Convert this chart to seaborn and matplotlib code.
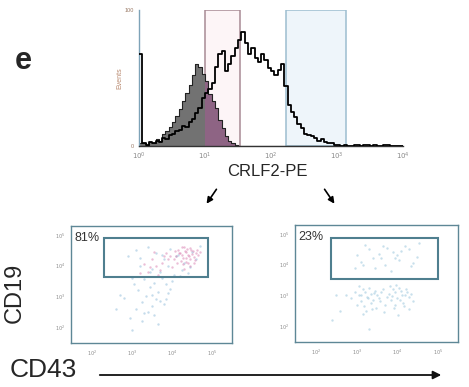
import numpy as np
import pandas as pd
import matplotlib
matplotlib.use("Agg")
import matplotlib.pyplot as plt
from matplotlib.patches import Rectangle, FancyArrowPatch
import seaborn as sns

sns.set_style("white")
plt.rcParams['font.family'] = ['Liberation Sans', 'DejaVu Sans']

# ---------------- data ----------------
# histogram: log10(CRLF2-PE) bins of width 0.05 from 10^0 to 10^4
bin_width = 0.05
open_counts = [68, 2, 1, 3, 2, 4, 3, 6, 5, 8, 9, 11, 12, 15, 14, 18, 20, 24, 28, 35,
               39, 42, 46, 58, 68, 70, 55, 60, 66, 72, 78, 84, 76, 68, 72, 65, 62, 68, 63, 57,
               55, 52, 56, 60, 44, 30, 25, 21, 16, 13, 9, 8, 7, 6, 4, 5, 3, 2, 2, 1,
               1, 0, 1, 0, 0, 1, 1, 0, 1, 1, 0, 1, 0, 0, 1, 1, 0, 0, 0, 0]
ctrl_counts = [2, 2, 1, 3, 2, 5, 4, 9, 11, 14, 18, 22, 27, 33, 39, 45, 52, 60, 58, 53,
               48, 38, 33, 28, 19, 13, 7, 4, 2, 1]
ctrl_counts = ctrl_counts + [0] * (len(open_counts) - len(ctrl_counts))
hist_xticks = [0, 1, 2, 3, 4]
hist_xticklabels = [r'$10^{0}$', r'$10^{1}$', r'$10^{2}$', r'$10^{3}$', r'$10^{4}$']
hist_gates = [(1.0, 1.53), (2.23, 3.14)]

# scatter (log10 units): left panel (CRLF2 low), right panel (CRLF2 high)
pink_x_l = [4.20, 4.35, 4.42, 4.28, 4.50, 4.15, 4.38, 4.60, 4.25, 4.45, 4.32, 4.55, 4.10, 4.40, 4.48,
            4.22, 4.65, 4.30, 4.05, 4.36, 4.52, 4.18, 4.44, 4.27, 4.58, 3.95, 4.12, 4.70, 4.34, 4.46,
            3.85, 4.00, 4.24, 4.62, 4.39, 3.90, 4.08, 4.54, 4.31, 3.75, 3.70, 3.60, 3.80, 3.50, 3.40,
            3.65, 3.55, 3.45, 3.30, 3.20]
pink_y_l = [4.40, 4.45, 4.30, 4.25, 4.38, 4.50, 4.55, 4.42, 4.35, 4.20, 4.48, 4.28, 4.32, 4.36, 4.52,
            4.15, 4.34, 4.60, 4.22, 4.12, 4.46, 4.40, 4.58, 4.05, 4.18, 4.30, 4.10, 4.44, 4.26, 4.00,
            4.40, 3.95, 4.62, 4.50, 4.08, 4.20, 4.48, 4.10, 3.90, 4.10, 3.85, 4.00, 4.30, 4.20, 3.80,
            3.70, 4.45, 3.95, 4.05, 3.75]
blue_x_l = [3.10, 3.40, 3.60, 3.80, 3.95, 4.10, 4.30, 4.50, 4.70, 2.90, 3.20, 3.50, 3.70, 3.90, 4.05,
            4.25, 4.45, 3.00, 3.30, 3.55, 3.75, 3.85, 4.00, 4.20, 3.15, 3.45, 3.65, 3.35, 3.60, 3.90,
            2.80, 3.05, 3.25, 3.50, 3.70, 3.95, 2.70, 3.10, 3.40, 3.80, 2.95, 3.55, 3.25, 3.65, 3.85,
            3.00, 3.45, 2.60, 3.20, 3.75, 4.60, 4.40, 4.15, 3.50, 3.30]
blue_y_l = [4.50, 4.60, 4.40, 4.20, 4.55, 4.30, 4.10, 4.45, 4.65, 4.30, 4.00, 3.90, 3.80, 4.00, 3.70,
            3.85, 3.95, 3.60, 3.55, 3.45, 3.60, 3.40, 3.50, 3.65, 3.20, 3.30, 3.15, 3.00, 2.90, 3.10,
            2.95, 3.40, 2.80, 2.70, 2.85, 3.25, 3.05, 2.60, 2.50, 2.75, 2.30, 2.40, 2.20, 2.10, 2.90,
            1.90, 3.80, 2.60, 4.25, 4.35, 4.20, 3.75, 4.35, 3.05, 2.45]
blue_x_r = [3.00, 3.30, 3.60, 3.90, 4.20, 4.50, 3.15, 3.45, 3.75, 4.05, 4.35, 3.20, 3.55, 3.85, 4.10,
            4.40, 2.95, 3.40, 3.70, 4.00, 4.30, 4.55, 3.10, 3.65, 3.95,
            2.95, 3.05, 3.15, 3.25, 3.35, 3.45, 3.55, 3.10, 3.20, 3.30, 3.40, 3.50, 3.00, 3.60, 3.80,
            3.90, 4.00, 4.10, 4.20, 4.30, 3.85, 3.95, 4.05, 4.15, 4.25, 3.75, 4.35, 3.70, 3.65, 3.12,
            3.28, 3.42, 3.92, 4.08, 4.22, 3.18, 3.38, 3.88, 4.18, 2.85, 3.58, 4.40, 3.05, 3.48, 3.98,
            4.12, 3.22, 3.82, 2.75, 3.35, 4.28, 3.68, 3.95, 3.15, 4.02, 2.50, 2.40, 2.60, 3.30]
blue_y_r = [4.30, 4.50, 4.20, 4.40, 4.60, 4.25, 4.00, 3.90, 4.55, 4.15, 3.95, 4.65, 4.35, 3.80, 4.45,
            4.05, 3.90, 4.20, 4.00, 4.30, 4.50, 4.70, 4.10, 4.60, 4.20,
            3.10, 3.00, 3.20, 2.95, 3.05, 3.15, 2.90, 2.80, 3.10, 3.25, 2.85, 3.00, 2.70, 3.10, 3.05,
            3.20, 2.90, 3.15, 3.00, 2.95, 2.85, 3.10, 3.25, 2.75, 3.12, 2.95, 3.05, 2.70, 3.20, 3.02,
            2.92, 3.08, 2.60, 2.85, 3.20, 2.65, 2.55, 2.98, 2.65, 2.90, 2.80, 2.80, 3.30, 2.60, 3.35,
            3.02, 2.50, 3.30, 3.00, 2.75, 2.55, 2.45, 2.70, 2.40, 2.35, 3.00, 2.20, 2.50, 1.90]
dot_ticks = [2, 3, 4, 5]
dot_ticklabels = [r'$10^{2}$', r'$10^{3}$', r'$10^{4}$', r'$10^{5}$']
gate_left = (2.30, 3.63, 4.90, 4.90)   # x0, y0, x1, y1
gate_right = (2.37, 3.53, 5.00, 4.87)
pct_left = "81%"
pct_right = "23%"

# ---------------- layout helpers ----------------
W, H = 469, 387
fig = plt.figure(figsize=(W / 100, H / 100), dpi=100)


def rect(l, t, r, b):
    return [l / W, 1 - b / H, (r - l) / W, (b - t) / H]


tick_grey = '#8a8a8a'
frame_col = '#5e8796'

# ---------------- histogram ----------------
n_bins = len(open_counts)
centers = [bin_width * (i + 0.5) for i in range(n_bins)]
hdf = pd.DataFrame({'x': centers, 'open': open_counts, 'ctrl': ctrl_counts})
hdf['ctrl_hi'] = np.where(hdf['x'] >= 1.0, hdf['ctrl'], 0)
hkw = dict(binwidth=bin_width, binrange=(0, bin_width * n_bins), element='step')

axh = fig.add_axes(rect(139, 10, 403, 146))
# gates
g1, g2 = hist_gates
axh.add_patch(Rectangle((g1[0], 0), g1[1] - g1[0], 100, facecolor='#fdf5f7',
                        edgecolor='#a88a94', lw=1.1, zorder=0.5))
axh.add_patch(Rectangle((g2[0], 0), g2[1] - g2[0], 100, facecolor='#eef5fa',
                        edgecolor='#9dbdd0', lw=1.1, zorder=0.5))
sns.histplot(data=hdf, x='x', weights='ctrl', fill=True, color='#727272', alpha=1.0,
             lw=0, ax=axh, zorder=1, **hkw)
sns.histplot(data=hdf, x='x', weights='ctrl_hi', fill=True, color='#8e6484', alpha=1.0,
             lw=0, ax=axh, zorder=1.2, **hkw)
sns.histplot(data=hdf, x='x', weights='ctrl', fill=False, color='#222222', lw=0.8,
             ax=axh, zorder=2, **hkw)
sns.histplot(data=hdf, x='x', weights='open', fill=False, color='black', lw=1.3,
             ax=axh, zorder=3, **hkw)
axh.set_xlim(0, 4)
axh.set_ylim(0, 100)
for s in ['top', 'right']:
    axh.spines[s].set_visible(False)
axh.spines['left'].set_color('#7ea3b8')
axh.spines['left'].set_linewidth(1.0)
axh.spines['bottom'].set_color('#333333')
axh.spines['bottom'].set_linewidth(1.0)
axh.set_xticks(hist_xticks)
axh.set_xticklabels(hist_xticklabels, fontsize=5, color=tick_grey)
axh.set_yticks([0, 100])
axh.set_yticklabels(['0', '100'], fontsize=4, color='#9a7a66')
axh.tick_params(axis='both', length=2, width=0.6, color=tick_grey, pad=1.5)
axh.set_xlabel('')
axh.set_ylabel('Events', fontsize=5, color='#b98a70', labelpad=1)


# ---------------- dot plots ----------------
def dot_panel(box, xs_list, ys_list, colors, gate, pct):
    ax = fig.add_axes(rect(*box))
    for xs, ys, c in zip(xs_list, ys_list, colors):
        sns.scatterplot(x=xs, y=ys, color=c, s=3, linewidth=0, alpha=0.45, ax=ax)
    x0, y0, x1, y1 = gate
    ax.add_patch(Rectangle((x0, y0), x1 - x0, y1 - y0, fill=False,
                           edgecolor='#4f7f8f', lw=1.5, zorder=5))
    ax.set_xlim(1.48, 5.5)
    ax.set_ylim(1.48, 5.29)
    for s in ax.spines.values():
        s.set_color(frame_col)
        s.set_linewidth(1.0)
    ax.set_xticks(dot_ticks)
    ax.set_xticklabels(dot_ticklabels, fontsize=3.5, color=tick_grey)
    ax.set_yticks(dot_ticks)
    ax.set_yticklabels(dot_ticklabels, fontsize=3.5, color=tick_grey)
    minors = [np.log10(k) + n for n in range(1, 6) for k in range(2, 10)]
    ax.set_xticks([m for m in minors if 1.48 < m < 5.5], minor=True)
    ax.set_yticks([m for m in minors if 1.48 < m < 5.29], minor=True)
    ax.tick_params(axis='both', which='major', length=3, width=0.7, color=tick_grey, pad=1)
    ax.tick_params(axis='both', which='minor', length=1.5, width=0.5, color=tick_grey)
    ax.set_xlabel('')
    ax.set_ylabel('')
    ax.text(0.02, 0.895, pct, transform=ax.transAxes, fontsize=9, color='#333333',
            ha='left', va='center')
    return ax


dot_panel((71, 226, 232, 343), [blue_x_l, pink_x_l], [blue_y_l, pink_y_l],
          ['#7fb2d4', '#d46fa6'], gate_left, pct_left)
dot_panel((295, 225, 458, 342), [blue_x_r], [blue_y_r],
          ['#86bad6'], gate_right, pct_right)

# ---------------- annotations (pixel overlay) ----------------
ov = fig.add_axes([0, 0, 1, 1])
ov.set_xlim(0, W)
ov.set_ylim(H, 0)
ov.set_axis_off()
ov.text(23, 61, 'e', fontsize=22, fontweight='bold', ha='center', va='center')
ov.text(267, 172, 'CRLF2-PE', fontsize=12, ha='center', va='center')
ov.text(15, 293, 'CD19', fontsize=17, rotation=90, ha='center', va='center')
ov.text(43, 370, 'CD43', fontsize=19, ha='center', va='center')
for (xa, ya, xb, yb) in [(218, 187, 205, 206), (323, 187, 336, 206)]:
    ov.add_patch(FancyArrowPatch((xa, ya), (xb, yb), arrowstyle='-|>', mutation_scale=9,
                                 color='black', lw=1.2))
ov.add_patch(FancyArrowPatch((97, 375), (444, 375), arrowstyle='-|>', mutation_scale=12,
                             color='#111111', lw=1.3))

fig.savefig('out.png', dpi=100)
